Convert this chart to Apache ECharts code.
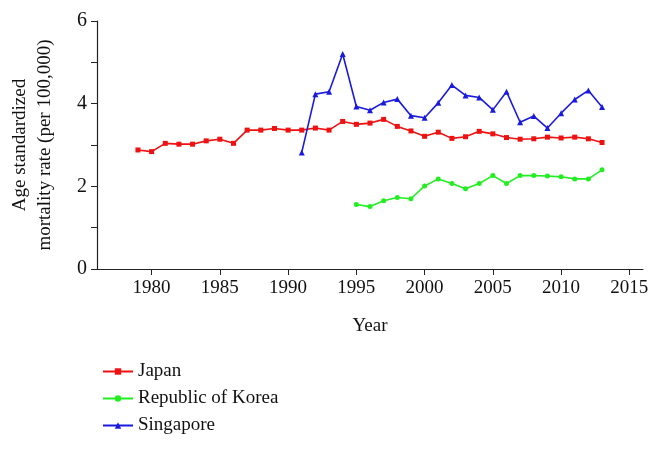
<!DOCTYPE html>
<html>
<head>
<meta charset="utf-8">
<script src="https://cdn.jsdelivr.net/npm/echarts@6/dist/echarts.min.js"></script>
<style>
  html, body { margin: 0; padding: 0; background: #fff; }
  #chart { width: 662px; height: 450px; }
</style>
</head>
<body>
<div id="chart"></div>
<script>
// years on the x axis
const japanYears = [1979, 1980, 1981, 1982, 1983, 1984, 1985, 1986, 1987, 1988, 1989, 1990,
  1991, 1992, 1993, 1994, 1995, 1996, 1997, 1998, 1999, 2000, 2001, 2002, 2003, 2004,
  2005, 2006, 2007, 2008, 2009, 2010, 2011, 2012, 2013];
const japanValues = [2.88, 2.84, 3.04, 3.02, 3.02, 3.10, 3.14, 3.04, 3.36, 3.36, 3.40, 3.36,
  3.36, 3.41, 3.36, 3.57, 3.50, 3.53, 3.62, 3.45, 3.34, 3.21, 3.31, 3.16, 3.20, 3.33,
  3.27, 3.18, 3.14, 3.15, 3.19, 3.17, 3.19, 3.15, 3.06];

const koreaYears = [1995, 1996, 1997, 1998, 1999, 2000, 2001, 2002, 2003, 2004,
  2005, 2006, 2007, 2008, 2009, 2010, 2011, 2012, 2013];
const koreaValues = [1.56, 1.51, 1.65, 1.73, 1.70, 2.01, 2.18, 2.07, 1.94, 2.07,
  2.26, 2.07, 2.26, 2.26, 2.25, 2.23, 2.18, 2.18, 2.40];

const singaporeYears = [1991, 1992, 1993, 1994, 1995, 1996, 1997, 1998, 1999, 2000, 2001,
  2002, 2003, 2004, 2005, 2006, 2007, 2008, 2009, 2010, 2011, 2012, 2013];
const singaporeValues = [2.82, 4.23, 4.29, 5.20, 3.93, 3.84, 4.03, 4.11, 3.71, 3.66, 4.02,
  4.45, 4.20, 4.15, 3.85, 4.29, 3.55, 3.70, 3.41, 3.77, 4.10, 4.32, 3.92];

const xTicks = [1980, 1985, 1990, 1995, 2000, 2005, 2010, 2015];
const yLabels = [0, 2, 4, 6];

const font = 'Liberation Serif';

function pairs(xs, ys) {
  return xs.map((x, i) => [x, ys[i]]);
}

const chart = echarts.init(document.getElementById('chart'));

const option = {
  animation: false,
  textStyle: { fontFamily: font, color: '#111' },
  grid: {
    left: 97,
    right: 19,
    top: 21,
    bottom: 181,
    containLabel: false,
    outerBoundsMode: 'none',
  },
  legend: {
    orient: 'vertical',
    left: 97,
    top: 357,
    itemWidth: 30,
    itemHeight: 8,
    itemGap: 8,
    textStyle: { fontFamily: font, fontSize: 19, color: '#111' },
    data: ['Japan', 'Republic of Korea', 'Singapore'],
  },
  xAxis: {
    type: 'value',
    min: 1976,
    max: 2016,
    name: 'Year',
    nameLocation: 'middle',
    nameGap: 48,
    nameTextStyle: { fontFamily: font, fontSize: 19, color: '#111' },
    splitLine: { show: false },
    axisLine: { lineStyle: { color: '#222', width: 1.2 } },
    axisTick: {
      customValues: xTicks,
      length: 6,
      lineStyle: { color: '#222' },
    },
    axisLabel: {
      customValues: xTicks,
      margin: 10,
      fontFamily: font,
      fontSize: 19,
      color: '#111',
      formatter: (v) => String(v),
    },
  },
  yAxis: {
    type: 'value',
    min: 0,
    max: 6,
    interval: 1,
    name: 'Age standardized\nmortality rate (per 100,000)',
    nameLocation: 'middle',
    nameRotate: 90,
    nameGap: 39,
    nameTextStyle: { fontFamily: font, fontSize: 19, color: '#111', lineHeight: 25 },
    splitLine: { show: false },
    axisLine: { show: true, lineStyle: { color: '#222', width: 1.2 } },
    axisTick: { show: true, length: 6, lineStyle: { color: '#222' } },
    axisLabel: {
      margin: 10,
      fontFamily: font,
      fontSize: 20,
      color: '#111',
      formatter: (v) => (yLabels.indexOf(v) >= 0 ? String(v) : ''),
    },
  },
  series: [
    {
      name: 'Japan',
      type: 'line',
      data: pairs(japanYears, japanValues),
      symbol: 'rect',
      symbolSize: 5,
      color: '#ee1111',
      lineStyle: { width: 1.6 },
    },
    {
      name: 'Republic of Korea',
      type: 'line',
      data: pairs(koreaYears, koreaValues),
      symbol: 'circle',
      symbolSize: 5,
      color: '#22ee22',
      lineStyle: { width: 1.6 },
    },
    {
      name: 'Singapore',
      type: 'line',
      data: pairs(singaporeYears, singaporeValues),
      symbol: 'triangle',
      symbolSize: 6,
      color: '#1a1adf',
      lineStyle: { width: 1.6 },
    },
  ],
};

chart.setOption(option);
</script>
</body>
</html>
